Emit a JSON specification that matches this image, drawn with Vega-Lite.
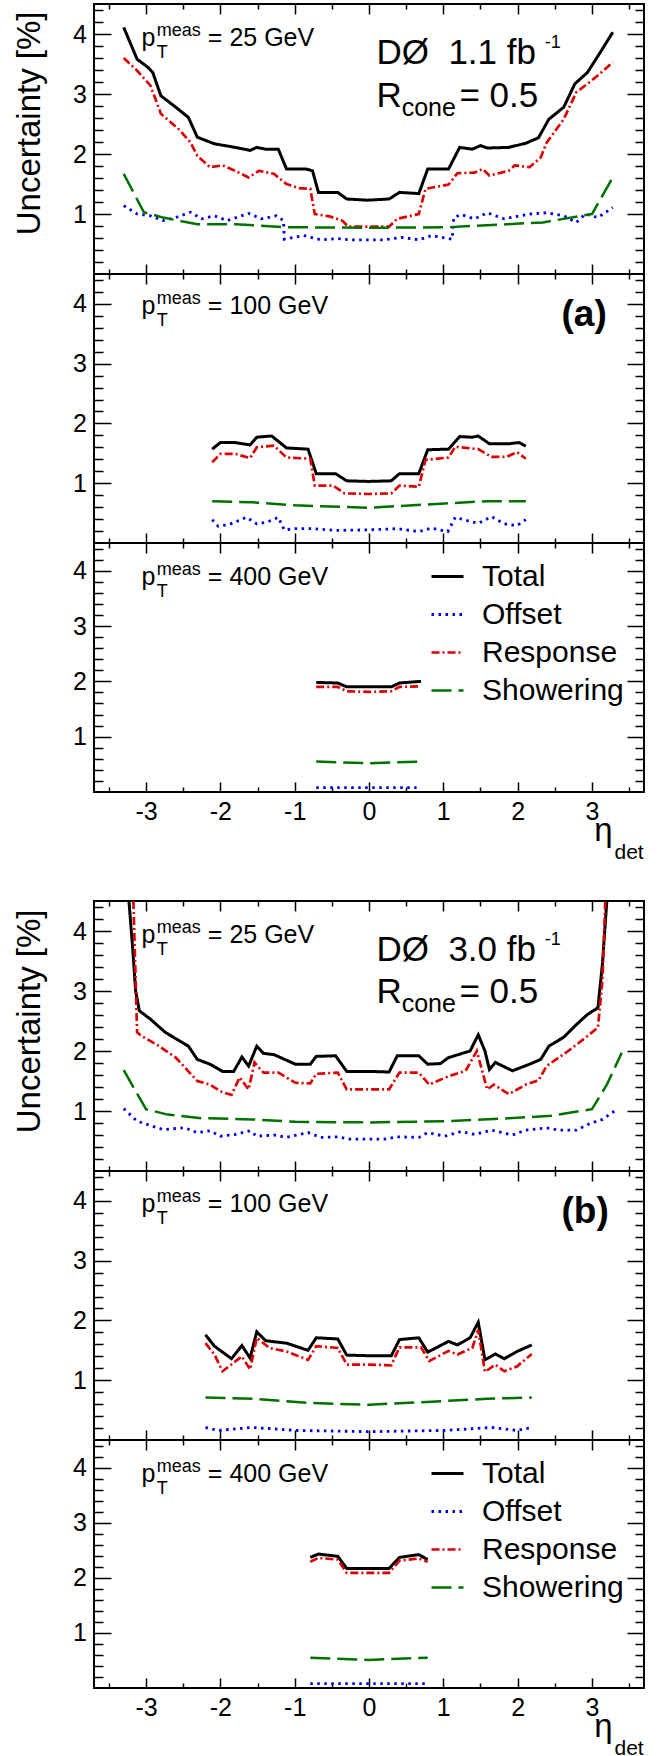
{
"$schema": "https://vega.github.io/schema/vega-lite/v6.json",
"padding": {"left": 12, "top": 2, "right": 5, "bottom": 0},
"background": "white",
"datasets": {
"a25": [
{"c":"Total","x":-3.30,"y":4.11},{"c":"Total","x":-3.12,"y":3.58},{"c":"Total","x":-2.97,"y":3.44},{"c":"Total","x":-2.91,"y":3.36},{"c":"Total","x":-2.80,"y":2.97},{"c":"Total","x":-2.60,"y":2.78},{"c":"Total","x":-2.43,"y":2.61},{"c":"Total","x":-2.31,"y":2.28},{"c":"Total","x":-2.08,"y":2.17},{"c":"Total","x":-1.80,"y":2.11},{"c":"Total","x":-1.60,"y":2.06},{"c":"Total","x":-1.51,"y":2.11},{"c":"Total","x":-1.39,"y":2.08},{"c":"Total","x":-1.22,"y":2.08},{"c":"Total","x":-1.11,"y":1.75},{"c":"Total","x":-0.85,"y":1.75},{"c":"Total","x":-0.76,"y":1.72},{"c":"Total","x":-0.68,"y":1.36},{"c":"Total","x":-0.42,"y":1.36},{"c":"Total","x":-0.30,"y":1.25},{"c":"Total","x":-0.02,"y":1.23},{"c":"Total","x":0.27,"y":1.25},{"c":"Total","x":0.41,"y":1.36},{"c":"Total","x":0.67,"y":1.34},{"c":"Total","x":0.79,"y":1.75},{"c":"Total","x":1.07,"y":1.75},{"c":"Total","x":1.22,"y":2.11},{"c":"Total","x":1.39,"y":2.08},{"c":"Total","x":1.50,"y":2.14},{"c":"Total","x":1.59,"y":2.10},{"c":"Total","x":1.88,"y":2.11},{"c":"Total","x":2.11,"y":2.18},{"c":"Total","x":2.28,"y":2.27},{"c":"Total","x":2.42,"y":2.58},{"c":"Total","x":2.62,"y":2.78},{"c":"Total","x":2.77,"y":3.17},{"c":"Total","x":2.94,"y":3.36},{"c":"Total","x":3.14,"y":3.75},{"c":"Total","x":3.28,"y":4.03},
{"c":"Response","x":-3.30,"y":3.60},{"c":"Response","x":-3.12,"y":3.39},{"c":"Response","x":-2.94,"y":3.14},{"c":"Response","x":-2.80,"y":2.67},{"c":"Response","x":-2.54,"y":2.39},{"c":"Response","x":-2.40,"y":2.19},{"c":"Response","x":-2.31,"y":1.97},{"c":"Response","x":-2.14,"y":1.78},{"c":"Response","x":-1.97,"y":1.81},{"c":"Response","x":-1.80,"y":1.72},{"c":"Response","x":-1.62,"y":1.61},{"c":"Response","x":-1.48,"y":1.72},{"c":"Response","x":-1.28,"y":1.67},{"c":"Response","x":-1.11,"y":1.50},{"c":"Response","x":-0.94,"y":1.43},{"c":"Response","x":-0.79,"y":1.42},{"c":"Response","x":-0.73,"y":1.00},{"c":"Response","x":-0.53,"y":0.96},{"c":"Response","x":-0.36,"y":0.89},{"c":"Response","x":-0.28,"y":0.79},{"c":"Response","x":0.00,"y":0.79},{"c":"Response","x":0.27,"y":0.79},{"c":"Response","x":0.38,"y":0.92},{"c":"Response","x":0.67,"y":1.00},{"c":"Response","x":0.76,"y":1.42},{"c":"Response","x":1.07,"y":1.49},{"c":"Response","x":1.19,"y":1.68},{"c":"Response","x":1.42,"y":1.69},{"c":"Response","x":1.53,"y":1.75},{"c":"Response","x":1.62,"y":1.64},{"c":"Response","x":1.88,"y":1.72},{"c":"Response","x":1.96,"y":1.81},{"c":"Response","x":2.16,"y":1.78},{"c":"Response","x":2.31,"y":1.94},{"c":"Response","x":2.39,"y":2.19},{"c":"Response","x":2.62,"y":2.58},{"c":"Response","x":2.79,"y":3.03},{"c":"Response","x":2.94,"y":3.17},{"c":"Response","x":3.08,"y":3.31},{"c":"Response","x":3.28,"y":3.53},
{"c":"Offset","x":-3.30,"y":1.14},{"c":"Offset","x":-3.12,"y":1.00},{"c":"Offset","x":-2.94,"y":0.97},{"c":"Offset","x":-2.77,"y":0.89},{"c":"Offset","x":-2.60,"y":0.94},{"c":"Offset","x":-2.40,"y":1.03},{"c":"Offset","x":-2.25,"y":0.92},{"c":"Offset","x":-2.08,"y":0.97},{"c":"Offset","x":-1.91,"y":0.89},{"c":"Offset","x":-1.62,"y":1.01},{"c":"Offset","x":-1.45,"y":0.92},{"c":"Offset","x":-1.25,"y":0.97},{"c":"Offset","x":-1.15,"y":0.89},{"c":"Offset","x":-1.14,"y":0.58},{"c":"Offset","x":-0.88,"y":0.64},{"c":"Offset","x":-0.65,"y":0.57},{"c":"Offset","x":-0.42,"y":0.59},{"c":"Offset","x":-0.25,"y":0.57},{"c":"Offset","x":-0.02,"y":0.57},{"c":"Offset","x":0.21,"y":0.57},{"c":"Offset","x":0.44,"y":0.61},{"c":"Offset","x":0.67,"y":0.57},{"c":"Offset","x":0.84,"y":0.64},{"c":"Offset","x":1.12,"y":0.58},{"c":"Offset","x":1.14,"y":0.94},{"c":"Offset","x":1.24,"y":0.99},{"c":"Offset","x":1.42,"y":0.92},{"c":"Offset","x":1.59,"y":1.02},{"c":"Offset","x":1.82,"y":0.92},{"c":"Offset","x":2.16,"y":1.00},{"c":"Offset","x":2.39,"y":1.02},{"c":"Offset","x":2.62,"y":0.97},{"c":"Offset","x":2.79,"y":0.86},{"c":"Offset","x":2.91,"y":1.00},{"c":"Offset","x":3.08,"y":0.94},{"c":"Offset","x":3.28,"y":1.11},
{"c":"Showering","x":-3.30,"y":1.67},{"c":"Showering","x":-3.03,"y":1.03},{"c":"Showering","x":-2.77,"y":0.94},{"c":"Showering","x":-2.31,"y":0.83},{"c":"Showering","x":-1.80,"y":0.83},{"c":"Showering","x":-1.11,"y":0.78},{"c":"Showering","x":0.0,"y":0.77},{"c":"Showering","x":1.07,"y":0.78},{"c":"Showering","x":2.34,"y":0.86},{"c":"Showering","x":3.00,"y":1.00},{"c":"Showering","x":3.28,"y":1.61}
],
"a100": [
{"c":"Total","x":-2.11,"y":1.57},{"c":"Total","x":-2.00,"y":1.68},{"c":"Total","x":-1.80,"y":1.68},{"c":"Total","x":-1.60,"y":1.64},{"c":"Total","x":-1.51,"y":1.77},{"c":"Total","x":-1.31,"y":1.79},{"c":"Total","x":-1.11,"y":1.59},{"c":"Total","x":-0.82,"y":1.57},{"c":"Total","x":-0.71,"y":1.16},{"c":"Total","x":-0.45,"y":1.16},{"c":"Total","x":-0.30,"y":1.04},{"c":"Total","x":0.00,"y":1.03},{"c":"Total","x":0.30,"y":1.04},{"c":"Total","x":0.41,"y":1.16},{"c":"Total","x":0.67,"y":1.16},{"c":"Total","x":0.79,"y":1.56},{"c":"Total","x":1.07,"y":1.57},{"c":"Total","x":1.22,"y":1.78},{"c":"Total","x":1.39,"y":1.77},{"c":"Total","x":1.47,"y":1.79},{"c":"Total","x":1.62,"y":1.66},{"c":"Total","x":1.88,"y":1.66},{"c":"Total","x":2.02,"y":1.68},{"c":"Total","x":2.11,"y":1.62},
{"c":"Response","x":-2.11,"y":1.35},{"c":"Response","x":-2.00,"y":1.49},{"c":"Response","x":-1.80,"y":1.49},{"c":"Response","x":-1.60,"y":1.42},{"c":"Response","x":-1.51,"y":1.60},{"c":"Response","x":-1.28,"y":1.63},{"c":"Response","x":-1.11,"y":1.43},{"c":"Response","x":-0.79,"y":1.41},{"c":"Response","x":-0.73,"y":0.96},{"c":"Response","x":-0.48,"y":0.96},{"c":"Response","x":-0.33,"y":0.83},{"c":"Response","x":0.00,"y":0.82},{"c":"Response","x":0.30,"y":0.83},{"c":"Response","x":0.41,"y":0.96},{"c":"Response","x":0.67,"y":0.94},{"c":"Response","x":0.76,"y":1.39},{"c":"Response","x":1.07,"y":1.43},{"c":"Response","x":1.16,"y":1.61},{"c":"Response","x":1.47,"y":1.57},{"c":"Response","x":1.65,"y":1.44},{"c":"Response","x":1.85,"y":1.44},{"c":"Response","x":1.99,"y":1.52},{"c":"Response","x":2.11,"y":1.41},
{"c":"Offset","x":-2.11,"y":0.39},{"c":"Offset","x":-2.03,"y":0.28},{"c":"Offset","x":-1.88,"y":0.31},{"c":"Offset","x":-1.65,"y":0.43},{"c":"Offset","x":-1.51,"y":0.32},{"c":"Offset","x":-1.37,"y":0.35},{"c":"Offset","x":-1.22,"y":0.43},{"c":"Offset","x":-1.14,"y":0.22},{"c":"Offset","x":-0.99,"y":0.24},{"c":"Offset","x":-0.76,"y":0.24},{"c":"Offset","x":-0.42,"y":0.21},{"c":"Offset","x":0.00,"y":0.22},{"c":"Offset","x":0.38,"y":0.24},{"c":"Offset","x":0.67,"y":0.19},{"c":"Offset","x":0.84,"y":0.25},{"c":"Offset","x":1.06,"y":0.19},{"c":"Offset","x":1.16,"y":0.43},{"c":"Offset","x":1.30,"y":0.38},{"c":"Offset","x":1.47,"y":0.33},{"c":"Offset","x":1.65,"y":0.44},{"c":"Offset","x":1.82,"y":0.32},{"c":"Offset","x":1.99,"y":0.29},{"c":"Offset","x":2.11,"y":0.39},
{"c":"Showering","x":-2.11,"y":0.70},{"c":"Showering","x":-1.57,"y":0.68},{"c":"Showering","x":-0.99,"y":0.63},{"c":"Showering","x":0.0,"y":0.59},{"c":"Showering","x":1.02,"y":0.66},{"c":"Showering","x":1.59,"y":0.70},{"c":"Showering","x":2.11,"y":0.70}
],
"a400": [
{"c":"Total","x":-0.71,"y":1.98},{"c":"Total","x":-0.42,"y":1.97},{"c":"Total","x":-0.30,"y":1.90},{"c":"Total","x":0.0,"y":1.90},{"c":"Total","x":0.30,"y":1.90},{"c":"Total","x":0.41,"y":1.97},{"c":"Total","x":0.70,"y":2.00},
{"c":"Response","x":-0.71,"y":1.90},{"c":"Response","x":-0.42,"y":1.90},{"c":"Response","x":-0.30,"y":1.82},{"c":"Response","x":0.0,"y":1.81},{"c":"Response","x":0.30,"y":1.82},{"c":"Response","x":0.41,"y":1.90},{"c":"Response","x":0.70,"y":1.91},
{"c":"Offset","x":-0.71,"y":0.08},{"c":"Offset","x":0.0,"y":0.08},{"c":"Offset","x":0.64,"y":0.08},
{"c":"Showering","x":-0.71,"y":0.55},{"c":"Showering","x":0.0,"y":0.52},{"c":"Showering","x":0.70,"y":0.55}
],
"b25": [
{"c":"Total","x":-3.23,"y":4.5},{"c":"Total","x":-3.18,"y":3.72},{"c":"Total","x":-3.14,"y":3.0},{"c":"Total","x":-3.09,"y":2.67},{"c":"Total","x":-2.94,"y":2.53},{"c":"Total","x":-2.74,"y":2.31},{"c":"Total","x":-2.43,"y":2.08},{"c":"Total","x":-2.31,"y":1.86},{"c":"Total","x":-2.14,"y":1.78},{"c":"Total","x":-1.97,"y":1.66},{"c":"Total","x":-1.82,"y":1.66},{"c":"Total","x":-1.71,"y":1.90},{"c":"Total","x":-1.62,"y":1.75},{"c":"Total","x":-1.51,"y":2.08},{"c":"Total","x":-1.42,"y":1.96},{"c":"Total","x":-1.28,"y":1.94},{"c":"Total","x":-0.99,"y":1.78},{"c":"Total","x":-0.79,"y":1.78},{"c":"Total","x":-0.71,"y":1.91},{"c":"Total","x":-0.45,"y":1.92},{"c":"Total","x":-0.30,"y":1.66},{"c":"Total","x":0.0,"y":1.66},{"c":"Total","x":0.27,"y":1.65},{"c":"Total","x":0.38,"y":1.92},{"c":"Total","x":0.67,"y":1.92},{"c":"Total","x":0.79,"y":1.78},{"c":"Total","x":0.96,"y":1.79},{"c":"Total","x":1.07,"y":1.89},{"c":"Total","x":1.36,"y":2.00},{"c":"Total","x":1.47,"y":2.27},{"c":"Total","x":1.56,"y":2.00},{"c":"Total","x":1.62,"y":1.69},{"c":"Total","x":1.70,"y":1.81},{"c":"Total","x":1.93,"y":1.67},{"c":"Total","x":2.16,"y":1.78},{"c":"Total","x":2.31,"y":1.86},{"c":"Total","x":2.42,"y":2.08},{"c":"Total","x":2.62,"y":2.23},{"c":"Total","x":2.79,"y":2.44},{"c":"Total","x":2.94,"y":2.61},{"c":"Total","x":3.08,"y":2.72},{"c":"Total","x":3.14,"y":3.44},{"c":"Total","x":3.20,"y":4.5},
{"c":"Response","x":-3.17,"y":4.5},{"c":"Response","x":-3.12,"y":2.31},{"c":"Response","x":-3.06,"y":2.25},{"c":"Response","x":-2.86,"y":2.11},{"c":"Response","x":-2.60,"y":1.89},{"c":"Response","x":-2.31,"y":1.50},{"c":"Response","x":-2.14,"y":1.44},{"c":"Response","x":-1.97,"y":1.31},{"c":"Response","x":-1.85,"y":1.27},{"c":"Response","x":-1.74,"y":1.56},{"c":"Response","x":-1.62,"y":1.36},{"c":"Response","x":-1.54,"y":1.81},{"c":"Response","x":-1.42,"y":1.64},{"c":"Response","x":-1.22,"y":1.64},{"c":"Response","x":-0.99,"y":1.47},{"c":"Response","x":-0.79,"y":1.46},{"c":"Response","x":-0.71,"y":1.62},{"c":"Response","x":-0.42,"y":1.64},{"c":"Response","x":-0.30,"y":1.36},{"c":"Response","x":0.0,"y":1.36},{"c":"Response","x":0.27,"y":1.36},{"c":"Response","x":0.41,"y":1.64},{"c":"Response","x":0.67,"y":1.64},{"c":"Response","x":0.81,"y":1.44},{"c":"Response","x":1.07,"y":1.58},{"c":"Response","x":1.30,"y":1.67},{"c":"Response","x":1.45,"y":2.00},{"c":"Response","x":1.59,"y":1.36},{"c":"Response","x":1.68,"y":1.44},{"c":"Response","x":1.88,"y":1.28},{"c":"Response","x":2.11,"y":1.44},{"c":"Response","x":2.28,"y":1.51},{"c":"Response","x":2.39,"y":1.75},{"c":"Response","x":2.68,"y":2.00},{"c":"Response","x":2.91,"y":2.22},{"c":"Response","x":3.08,"y":2.39},{"c":"Response","x":3.14,"y":3.17},{"c":"Response","x":3.18,"y":4.5},
{"c":"Offset","x":-3.30,"y":1.04},{"c":"Offset","x":-3.12,"y":0.83},{"c":"Offset","x":-2.77,"y":0.69},{"c":"Offset","x":-2.48,"y":0.72},{"c":"Offset","x":-2.31,"y":0.64},{"c":"Offset","x":-2.14,"y":0.67},{"c":"Offset","x":-2.00,"y":0.58},{"c":"Offset","x":-1.80,"y":0.61},{"c":"Offset","x":-1.60,"y":0.67},{"c":"Offset","x":-1.51,"y":0.58},{"c":"Offset","x":-1.28,"y":0.60},{"c":"Offset","x":-1.11,"y":0.56},{"c":"Offset","x":-0.82,"y":0.64},{"c":"Offset","x":-0.65,"y":0.56},{"c":"Offset","x":-0.42,"y":0.57},{"c":"Offset","x":-0.25,"y":0.53},{"c":"Offset","x":0.0,"y":0.53},{"c":"Offset","x":0.21,"y":0.53},{"c":"Offset","x":0.38,"y":0.57},{"c":"Offset","x":0.67,"y":0.56},{"c":"Offset","x":0.79,"y":0.64},{"c":"Offset","x":1.02,"y":0.58},{"c":"Offset","x":1.24,"y":0.66},{"c":"Offset","x":1.42,"y":0.61},{"c":"Offset","x":1.65,"y":0.68},{"c":"Offset","x":1.93,"y":0.60},{"c":"Offset","x":2.11,"y":0.68},{"c":"Offset","x":2.39,"y":0.72},{"c":"Offset","x":2.56,"y":0.68},{"c":"Offset","x":2.79,"y":0.68},{"c":"Offset","x":2.97,"y":0.79},{"c":"Offset","x":3.14,"y":0.86},{"c":"Offset","x":3.34,"y":1.03},
{"c":"Showering","x":-3.30,"y":1.68},{"c":"Showering","x":-3.00,"y":1.03},{"c":"Showering","x":-2.71,"y":0.94},{"c":"Showering","x":-2.25,"y":0.88},{"c":"Showering","x":-1.57,"y":0.86},{"c":"Showering","x":-0.99,"y":0.82},{"c":"Showering","x":0.0,"y":0.81},{"c":"Showering","x":1.07,"y":0.83},{"c":"Showering","x":1.88,"y":0.88},{"c":"Showering","x":2.45,"y":0.92},{"c":"Showering","x":3.00,"y":1.03},{"c":"Showering","x":3.20,"y":1.44},{"c":"Showering","x":3.40,"y":1.97}
],
"b100": [
{"c":"Total","x":-2.20,"y":1.76},{"c":"Total","x":-2.08,"y":1.57},{"c":"Total","x":-1.85,"y":1.36},{"c":"Total","x":-1.71,"y":1.58},{"c":"Total","x":-1.60,"y":1.37},{"c":"Total","x":-1.51,"y":1.81},{"c":"Total","x":-1.39,"y":1.66},{"c":"Total","x":-1.11,"y":1.62},{"c":"Total","x":-0.82,"y":1.50},{"c":"Total","x":-0.71,"y":1.71},{"c":"Total","x":-0.42,"y":1.69},{"c":"Total","x":-0.30,"y":1.42},{"c":"Total","x":0.0,"y":1.41},{"c":"Total","x":0.30,"y":1.41},{"c":"Total","x":0.41,"y":1.68},{"c":"Total","x":0.67,"y":1.71},{"c":"Total","x":0.79,"y":1.47},{"c":"Total","x":1.07,"y":1.65},{"c":"Total","x":1.19,"y":1.59},{"c":"Total","x":1.36,"y":1.71},{"c":"Total","x":1.47,"y":1.97},{"c":"Total","x":1.56,"y":1.34},{"c":"Total","x":1.70,"y":1.44},{"c":"Total","x":1.82,"y":1.36},{"c":"Total","x":1.99,"y":1.48},{"c":"Total","x":2.19,"y":1.59},
{"c":"Response","x":-2.20,"y":1.62},{"c":"Response","x":-2.08,"y":1.43},{"c":"Response","x":-1.97,"y":1.15},{"c":"Response","x":-1.71,"y":1.40},{"c":"Response","x":-1.60,"y":1.18},{"c":"Response","x":-1.51,"y":1.71},{"c":"Response","x":-1.34,"y":1.54},{"c":"Response","x":-1.11,"y":1.48},{"c":"Response","x":-0.82,"y":1.34},{"c":"Response","x":-0.71,"y":1.57},{"c":"Response","x":-0.42,"y":1.54},{"c":"Response","x":-0.30,"y":1.26},{"c":"Response","x":0.0,"y":1.26},{"c":"Response","x":0.30,"y":1.25},{"c":"Response","x":0.41,"y":1.55},{"c":"Response","x":0.70,"y":1.55},{"c":"Response","x":0.81,"y":1.32},{"c":"Response","x":1.07,"y":1.49},{"c":"Response","x":1.19,"y":1.43},{"c":"Response","x":1.39,"y":1.54},{"c":"Response","x":1.47,"y":1.84},{"c":"Response","x":1.56,"y":1.14},{"c":"Response","x":1.70,"y":1.26},{"c":"Response","x":1.82,"y":1.15},{"c":"Response","x":1.99,"y":1.23},{"c":"Response","x":2.19,"y":1.44},
{"c":"Offset","x":-2.20,"y":0.21},{"c":"Offset","x":-2.03,"y":0.16},{"c":"Offset","x":-1.57,"y":0.21},{"c":"Offset","x":-0.99,"y":0.16},{"c":"Offset","x":0.0,"y":0.14},{"c":"Offset","x":1.02,"y":0.16},{"c":"Offset","x":1.65,"y":0.21},{"c":"Offset","x":1.99,"y":0.16},{"c":"Offset","x":2.19,"y":0.21},
{"c":"Showering","x":-2.20,"y":0.71},{"c":"Showering","x":-1.57,"y":0.69},{"c":"Showering","x":-0.82,"y":0.62},{"c":"Showering","x":0.0,"y":0.59},{"c":"Showering","x":0.84,"y":0.64},{"c":"Showering","x":1.59,"y":0.69},{"c":"Showering","x":2.19,"y":0.71}
],
"b400": [
{"c":"Total","x":-0.79,"y":2.37},{"c":"Total","x":-0.68,"y":2.43},{"c":"Total","x":-0.42,"y":2.39},{"c":"Total","x":-0.30,"y":2.17},{"c":"Total","x":0.0,"y":2.17},{"c":"Total","x":0.27,"y":2.17},{"c":"Total","x":0.41,"y":2.37},{"c":"Total","x":0.67,"y":2.42},{"c":"Total","x":0.79,"y":2.33},
{"c":"Response","x":-0.79,"y":2.29},{"c":"Response","x":-0.68,"y":2.36},{"c":"Response","x":-0.42,"y":2.33},{"c":"Response","x":-0.30,"y":2.09},{"c":"Response","x":0.0,"y":2.09},{"c":"Response","x":0.27,"y":2.09},{"c":"Response","x":0.41,"y":2.31},{"c":"Response","x":0.67,"y":2.35},{"c":"Response","x":0.79,"y":2.29},
{"c":"Offset","x":-0.79,"y":0.08},{"c":"Offset","x":0.0,"y":0.08},{"c":"Offset","x":0.79,"y":0.08},
{"c":"Showering","x":-0.79,"y":0.55},{"c":"Showering","x":0.0,"y":0.51},{"c":"Showering","x":0.79,"y":0.55}
]
},
"spacing": 0,
"bounds": "flush",
"resolve": {"scale": {"color": "independent", "strokeDash": "independent", "strokeWidth": "independent"}},
"vconcat": [
 {"width": 550, "height": 270, "resolve": {"axis": {"x": "independent", "y": "independent"}},
  "layer": [
   {"data": {"name": "a25"}, "mark": {"type": "line", "clip": true},
    "encoding": {
     "x": {"field": "x", "type": "quantitative", "scale": {"domain": [-3.7, 3.7], "nice": false, "zero": false}, "axis": {"orient": "bottom", "values": [-3,-2,-1,0,1,2,3], "tickSize": -10, "labels": false, "title": null}},
     "y": {"field": "y", "type": "quantitative", "scale": {"domain": [0, 4.5], "nice": false, "zero": false}, "axis": {"orient": "left", "values": [1,2,3,4], "tickSize": -17, "labelPadding": 24.7, "labelExpr": "''+datum.value", "title": "Uncertainty [%]", "titleFontSize": 33, "titleAngle": -90, "titleAlign": "right", "titleBaseline": "alphabetic", "titleX": -54.6, "titleY": 7}},
     "color": {"field": "c", "type": "nominal", "scale": {"domain": ["Total","Offset","Response","Showering"], "range": ["#000000","#0000dd","#dd0000","#007000"]}, "legend": null},
     "strokeDash": {"field": "c", "type": "nominal", "scale": {"domain": ["Total","Offset","Response","Showering"], "range": [[1,0],[2.5,4.5],[8,3,2,3],[20,7]]}, "legend": null},
     "strokeWidth": {"field": "c", "type": "nominal", "scale": {"domain": ["Total","Offset","Response","Showering"], "range": [3,2.5,2,2.3]}, "legend": null}
    }},
   {"data": {"name": "a25"}, "mark": {"type": "point", "opacity": 0}, "encoding": {"x": {"field": "x", "type": "quantitative", "axis": {"orient": "bottom", "values": [-3.5,-2.5,-1.5,-0.5,0.5,1.5,2.5,3.5], "tickSize": -5, "labels": false, "title": null}}, "y": {"field": "y", "type": "quantitative", "axis": {"orient": "left", "values": [0.2,0.4,0.6,0.8,1.2,1.4,1.6,1.8,2.2,2.4,2.6,2.8,3.2,3.4,3.6,3.8,4.2,4.4], "tickSize": -9, "labels": false, "title": null}}}},
   {"data": {"name": "a25"}, "mark": {"type": "point", "opacity": 0}, "encoding": {"x": {"field": "x", "type": "quantitative", "axis": {"orient": "top", "values": [-3,-2,-1,0,1,2,3], "tickSize": -10, "labels": false, "title": null}}, "y": {"field": "y", "type": "quantitative", "axis": {"orient": "right", "values": [1,2,3,4], "tickSize": -17, "labels": false, "title": null}}}},
   {"data": {"name": "a25"}, "mark": {"type": "point", "opacity": 0}, "encoding": {"x": {"field": "x", "type": "quantitative", "axis": {"orient": "top", "values": [-3.5,-2.5,-1.5,-0.5,0.5,1.5,2.5,3.5], "tickSize": -5, "labels": false, "title": null}}, "y": {"field": "y", "type": "quantitative", "axis": {"orient": "right", "values": [0.2,0.4,0.6,0.8,1.2,1.4,1.6,1.8,2.2,2.4,2.6,2.8,3.2,3.4,3.6,3.8,4.2,4.4], "tickSize": -9, "labels": false, "title": null}}}},
   {"data": {"values": [{}]}, "mark": {"type": "text", "text": "p", "fontSize": 25}, "encoding": {"x": {"datum": -3.06, "type": "quantitative", "axis": null}, "y": {"datum": 3.8, "type": "quantitative", "axis": null}}},
   {"data": {"values": [{}]}, "mark": {"type": "text", "text": "meas", "fontSize": 18, "dy": -10}, "encoding": {"x": {"datum": -2.857, "type": "quantitative", "axis": null}, "y": {"datum": 3.8, "type": "quantitative", "axis": null}}},
   {"data": {"values": [{}]}, "mark": {"type": "text", "text": "T", "fontSize": 18, "dy": 12}, "encoding": {"x": {"datum": -2.857, "type": "quantitative", "axis": null}, "y": {"datum": 3.8, "type": "quantitative", "axis": null}}},
   {"data": {"values": [{}]}, "mark": {"type": "text", "text": "= 25 GeV", "fontSize": 25}, "encoding": {"x": {"datum": -2.168, "type": "quantitative", "axis": null}, "y": {"datum": 3.8, "type": "quantitative", "axis": null}}},
   {"data": {"values": [{}]}, "mark": {"type": "text", "text": "DØ\u00a0 1.1 fb", "fontSize": 35}, "encoding": {"x": {"datum": 0.1, "type": "quantitative", "axis": null}, "y": {"datum": 3.5, "type": "quantitative", "axis": null}}},
   {"data": {"values": [{}]}, "mark": {"type": "text", "text": "-1", "fontSize": 18, "dy": -16}, "encoding": {"x": {"datum": 2.364, "type": "quantitative", "axis": null}, "y": {"datum": 3.5, "type": "quantitative", "axis": null}}},
   {"data": {"values": [{}]}, "mark": {"type": "text", "text": "R", "fontSize": 35}, "encoding": {"x": {"datum": 0.1, "type": "quantitative", "axis": null}, "y": {"datum": 2.79, "type": "quantitative", "axis": null}}},
   {"data": {"values": [{}]}, "mark": {"type": "text", "text": "cone", "fontSize": 25, "dy": 9}, "encoding": {"x": {"datum": 0.44, "type": "quantitative", "axis": null}, "y": {"datum": 2.79, "type": "quantitative", "axis": null}}},
   {"data": {"values": [{}]}, "mark": {"type": "text", "text": "= 0.5", "fontSize": 35}, "encoding": {"x": {"datum": 1.216, "type": "quantitative", "axis": null}, "y": {"datum": 2.79, "type": "quantitative", "axis": null}}}
  ]},
 {"width": 550, "height": 269, "resolve": {"axis": {"x": "independent", "y": "independent"}},
  "layer": [
   {"data": {"name": "a100"}, "mark": {"type": "line", "clip": true},
    "encoding": {
     "x": {"field": "x", "type": "quantitative", "scale": {"domain": [-3.7, 3.7], "nice": false, "zero": false}, "axis": {"orient": "bottom", "values": [-3,-2,-1,0,1,2,3], "tickSize": -10, "labels": false, "title": null}},
     "y": {"field": "y", "type": "quantitative", "scale": {"domain": [0, 4.5], "nice": false, "zero": false}, "axis": {"orient": "left", "values": [1,2,3,4], "tickSize": -17, "labelPadding": 24.7, "labelExpr": "''+datum.value", "title": null}},
     "color": {"field": "c", "type": "nominal", "scale": {"domain": ["Total","Offset","Response","Showering"], "range": ["#000000","#0000dd","#dd0000","#007000"]}, "legend": null},
     "strokeDash": {"field": "c", "type": "nominal", "scale": {"domain": ["Total","Offset","Response","Showering"], "range": [[1,0],[2.5,4.5],[8,3,2,3],[20,7]]}, "legend": null},
     "strokeWidth": {"field": "c", "type": "nominal", "scale": {"domain": ["Total","Offset","Response","Showering"], "range": [3,2.5,2,2.3]}, "legend": null}
    }},
   {"data": {"name": "a100"}, "mark": {"type": "point", "opacity": 0}, "encoding": {"x": {"field": "x", "type": "quantitative", "axis": {"orient": "bottom", "values": [-3.5,-2.5,-1.5,-0.5,0.5,1.5,2.5,3.5], "tickSize": -5, "labels": false, "title": null}}, "y": {"field": "y", "type": "quantitative", "axis": {"orient": "left", "values": [0.2,0.4,0.6,0.8,1.2,1.4,1.6,1.8,2.2,2.4,2.6,2.8,3.2,3.4,3.6,3.8,4.2,4.4], "tickSize": -9, "labels": false, "title": null}}}},
   {"data": {"name": "a100"}, "mark": {"type": "point", "opacity": 0}, "encoding": {"x": {"field": "x", "type": "quantitative", "axis": {"orient": "top", "values": [-3,-2,-1,0,1,2,3], "tickSize": -10, "labels": false, "title": null}}, "y": {"field": "y", "type": "quantitative", "axis": {"orient": "right", "values": [1,2,3,4], "tickSize": -17, "labels": false, "title": null}}}},
   {"data": {"name": "a100"}, "mark": {"type": "point", "opacity": 0}, "encoding": {"x": {"field": "x", "type": "quantitative", "axis": {"orient": "top", "values": [-3.5,-2.5,-1.5,-0.5,0.5,1.5,2.5,3.5], "tickSize": -5, "labels": false, "title": null}}, "y": {"field": "y", "type": "quantitative", "axis": {"orient": "right", "values": [0.2,0.4,0.6,0.8,1.2,1.4,1.6,1.8,2.2,2.4,2.6,2.8,3.2,3.4,3.6,3.8,4.2,4.4], "tickSize": -9, "labels": false, "title": null}}}},
   {"data": {"values": [{}]}, "mark": {"type": "text", "text": "p", "fontSize": 25}, "encoding": {"x": {"datum": -3.06, "type": "quantitative", "axis": null}, "y": {"datum": 3.83, "type": "quantitative", "axis": null}}},
   {"data": {"values": [{}]}, "mark": {"type": "text", "text": "meas", "fontSize": 18, "dy": -10}, "encoding": {"x": {"datum": -2.857, "type": "quantitative", "axis": null}, "y": {"datum": 3.83, "type": "quantitative", "axis": null}}},
   {"data": {"values": [{}]}, "mark": {"type": "text", "text": "T", "fontSize": 18, "dy": 12}, "encoding": {"x": {"datum": -2.857, "type": "quantitative", "axis": null}, "y": {"datum": 3.83, "type": "quantitative", "axis": null}}},
   {"data": {"values": [{}]}, "mark": {"type": "text", "text": "= 100 GeV", "fontSize": 25}, "encoding": {"x": {"datum": -2.168, "type": "quantitative", "axis": null}, "y": {"datum": 3.83, "type": "quantitative", "axis": null}}},
   {"data": {"values": [{}]}, "mark": {"type": "text", "text": "(a)", "fontSize": 37, "fontWeight": "bold"}, "encoding": {"x": {"datum": 2.59, "type": "quantitative", "axis": null}, "y": {"datum": 3.63, "type": "quantitative", "axis": null}}}
  ]},
 {"width": 550, "height": 249, "resolve": {"axis": {"x": "independent", "y": "independent"}},
  "layer": [
   {"data": {"name": "a400"}, "mark": {"type": "line", "clip": true},
    "encoding": {
     "x": {"field": "x", "type": "quantitative", "scale": {"domain": [-3.7, 3.7], "nice": false, "zero": false}, "axis": {"orient": "bottom", "values": [-3,-2,-1,0,1,2,3], "tickSize": -10, "labelPadding": 17, "labelExpr": "''+datum.value", "title": "η", "titleFontSize": 33, "titleAlign": "right", "titleBaseline": "alphabetic", "titleAngle": 0, "titleX": 518, "titleY": 48}},
     "y": {"field": "y", "type": "quantitative", "scale": {"domain": [0, 4.5], "nice": false, "zero": false}, "axis": {"orient": "left", "values": [1,2,3,4], "tickSize": -17, "labelPadding": 24.7, "labelExpr": "''+datum.value", "title": null}},
     "color": {"field": "c", "type": "nominal", "scale": {"domain": ["Total","Offset","Response","Showering"], "range": ["#000000","#0000dd","#dd0000","#007000"]}, "legend": {"orient": "none", "legendX": 336, "legendY": 16, "title": null, "symbolType": "stroke", "symbolSize": 1024, "symbolStrokeWidth": 2.5, "labelFontSize": 30, "labelOffset": 17, "rowPadding": 5, "padding": 0, "labelColor": "black", "labelFont": "Liberation Sans"}},
     "strokeDash": {"field": "c", "type": "nominal", "scale": {"domain": ["Total","Offset","Response","Showering"], "range": [[1,0],[2.5,4.5],[8,3,2,3],[20,7]]}, "legend": {"orient": "none", "legendX": 336, "legendY": 16, "title": null, "symbolType": "stroke", "symbolSize": 1024, "symbolStrokeWidth": 2.5, "labelFontSize": 30, "labelOffset": 17, "rowPadding": 5, "padding": 0, "labelColor": "black", "labelFont": "Liberation Sans"}},
     "strokeWidth": {"field": "c", "type": "nominal", "scale": {"domain": ["Total","Offset","Response","Showering"], "range": [3,2.5,2,2.3]}, "legend": null}
    }},
   {"data": {"name": "a400"}, "mark": {"type": "point", "opacity": 0}, "encoding": {"x": {"field": "x", "type": "quantitative", "axis": {"orient": "bottom", "values": [-3.5,-2.5,-1.5,-0.5,0.5,1.5,2.5,3.5], "tickSize": -5, "labels": false, "title": "det", "titleFontSize": 21, "titleAlign": "left", "titleBaseline": "alphabetic", "titleAngle": 0, "titleX": 520, "titleY": 66}}, "y": {"field": "y", "type": "quantitative", "axis": {"orient": "left", "values": [0.2,0.4,0.6,0.8,1.2,1.4,1.6,1.8,2.2,2.4,2.6,2.8,3.2,3.4,3.6,3.8,4.2,4.4], "tickSize": -9, "labels": false, "title": null}}}},
   {"data": {"name": "a400"}, "mark": {"type": "point", "opacity": 0}, "encoding": {"x": {"field": "x", "type": "quantitative", "axis": {"orient": "top", "values": [-3,-2,-1,0,1,2,3], "tickSize": -10, "labels": false, "title": null}}, "y": {"field": "y", "type": "quantitative", "axis": {"orient": "right", "values": [1,2,3,4], "tickSize": -17, "labels": false, "title": null}}}},
   {"data": {"name": "a400"}, "mark": {"type": "point", "opacity": 0}, "encoding": {"x": {"field": "x", "type": "quantitative", "axis": {"orient": "top", "values": [-3.5,-2.5,-1.5,-0.5,0.5,1.5,2.5,3.5], "tickSize": -5, "labels": false, "title": null}}, "y": {"field": "y", "type": "quantitative", "axis": {"orient": "right", "values": [0.2,0.4,0.6,0.8,1.2,1.4,1.6,1.8,2.2,2.4,2.6,2.8,3.2,3.4,3.6,3.8,4.2,4.4], "tickSize": -9, "labels": false, "title": null}}}},
   {"data": {"values": [{}]}, "mark": {"type": "text", "text": "p", "fontSize": 25}, "encoding": {"x": {"datum": -3.06, "type": "quantitative", "axis": null}, "y": {"datum": 3.75, "type": "quantitative", "axis": null}}},
   {"data": {"values": [{}]}, "mark": {"type": "text", "text": "meas", "fontSize": 18, "dy": -10}, "encoding": {"x": {"datum": -2.857, "type": "quantitative", "axis": null}, "y": {"datum": 3.75, "type": "quantitative", "axis": null}}},
   {"data": {"values": [{}]}, "mark": {"type": "text", "text": "T", "fontSize": 18, "dy": 12}, "encoding": {"x": {"datum": -2.857, "type": "quantitative", "axis": null}, "y": {"datum": 3.75, "type": "quantitative", "axis": null}}},
   {"data": {"values": [{}]}, "mark": {"type": "text", "text": "= 400 GeV", "fontSize": 25}, "encoding": {"x": {"datum": -2.168, "type": "quantitative", "axis": null}, "y": {"datum": 3.75, "type": "quantitative", "axis": null}}}
  ]},
 {"width": 550, "height": 109, "view": {"stroke": null}, "data": {"values": [{}]}, "mark": {"type": "point", "opacity": 0, "size": 0}, "encoding": {}},
 {"width": 550, "height": 270, "resolve": {"axis": {"x": "independent", "y": "independent"}},
  "layer": [
   {"data": {"name": "b25"}, "mark": {"type": "line", "clip": true},
    "encoding": {
     "x": {"field": "x", "type": "quantitative", "scale": {"domain": [-3.7, 3.7], "nice": false, "zero": false}, "axis": {"orient": "bottom", "values": [-3,-2,-1,0,1,2,3], "tickSize": -10, "labels": false, "title": null}},
     "y": {"field": "y", "type": "quantitative", "scale": {"domain": [0, 4.5], "nice": false, "zero": false}, "axis": {"orient": "left", "values": [1,2,3,4], "tickSize": -17, "labelPadding": 24.7, "labelExpr": "''+datum.value", "title": "Uncertainty [%]", "titleFontSize": 33, "titleAngle": -90, "titleAlign": "right", "titleBaseline": "alphabetic", "titleX": -54.6, "titleY": 8}},
     "color": {"field": "c", "type": "nominal", "scale": {"domain": ["Total","Offset","Response","Showering"], "range": ["#000000","#0000dd","#dd0000","#007000"]}, "legend": null},
     "strokeDash": {"field": "c", "type": "nominal", "scale": {"domain": ["Total","Offset","Response","Showering"], "range": [[1,0],[2.5,4.5],[8,3,2,3],[20,7]]}, "legend": null},
     "strokeWidth": {"field": "c", "type": "nominal", "scale": {"domain": ["Total","Offset","Response","Showering"], "range": [3,2.5,2,2.3]}, "legend": null}
    }},
   {"data": {"name": "b25"}, "mark": {"type": "point", "opacity": 0}, "encoding": {"x": {"field": "x", "type": "quantitative", "axis": {"orient": "bottom", "values": [-3.5,-2.5,-1.5,-0.5,0.5,1.5,2.5,3.5], "tickSize": -5, "labels": false, "title": null}}, "y": {"field": "y", "type": "quantitative", "axis": {"orient": "left", "values": [0.2,0.4,0.6,0.8,1.2,1.4,1.6,1.8,2.2,2.4,2.6,2.8,3.2,3.4,3.6,3.8,4.2,4.4], "tickSize": -9, "labels": false, "title": null}}}},
   {"data": {"name": "b25"}, "mark": {"type": "point", "opacity": 0}, "encoding": {"x": {"field": "x", "type": "quantitative", "axis": {"orient": "top", "values": [-3,-2,-1,0,1,2,3], "tickSize": -10, "labels": false, "title": null}}, "y": {"field": "y", "type": "quantitative", "axis": {"orient": "right", "values": [1,2,3,4], "tickSize": -17, "labels": false, "title": null}}}},
   {"data": {"name": "b25"}, "mark": {"type": "point", "opacity": 0}, "encoding": {"x": {"field": "x", "type": "quantitative", "axis": {"orient": "top", "values": [-3.5,-2.5,-1.5,-0.5,0.5,1.5,2.5,3.5], "tickSize": -5, "labels": false, "title": null}}, "y": {"field": "y", "type": "quantitative", "axis": {"orient": "right", "values": [0.2,0.4,0.6,0.8,1.2,1.4,1.6,1.8,2.2,2.4,2.6,2.8,3.2,3.4,3.6,3.8,4.2,4.4], "tickSize": -9, "labels": false, "title": null}}}},
   {"data": {"values": [{}]}, "mark": {"type": "text", "text": "p", "fontSize": 25}, "encoding": {"x": {"datum": -3.06, "type": "quantitative", "axis": null}, "y": {"datum": 3.8, "type": "quantitative", "axis": null}}},
   {"data": {"values": [{}]}, "mark": {"type": "text", "text": "meas", "fontSize": 18, "dy": -10}, "encoding": {"x": {"datum": -2.857, "type": "quantitative", "axis": null}, "y": {"datum": 3.8, "type": "quantitative", "axis": null}}},
   {"data": {"values": [{}]}, "mark": {"type": "text", "text": "T", "fontSize": 18, "dy": 12}, "encoding": {"x": {"datum": -2.857, "type": "quantitative", "axis": null}, "y": {"datum": 3.8, "type": "quantitative", "axis": null}}},
   {"data": {"values": [{}]}, "mark": {"type": "text", "text": "= 25 GeV", "fontSize": 25}, "encoding": {"x": {"datum": -2.168, "type": "quantitative", "axis": null}, "y": {"datum": 3.8, "type": "quantitative", "axis": null}}},
   {"data": {"values": [{}]}, "mark": {"type": "text", "text": "DØ\u00a0 3.0 fb", "fontSize": 35}, "encoding": {"x": {"datum": 0.1, "type": "quantitative", "axis": null}, "y": {"datum": 3.5, "type": "quantitative", "axis": null}}},
   {"data": {"values": [{}]}, "mark": {"type": "text", "text": "-1", "fontSize": 18, "dy": -16}, "encoding": {"x": {"datum": 2.364, "type": "quantitative", "axis": null}, "y": {"datum": 3.5, "type": "quantitative", "axis": null}}},
   {"data": {"values": [{}]}, "mark": {"type": "text", "text": "R", "fontSize": 35}, "encoding": {"x": {"datum": 0.1, "type": "quantitative", "axis": null}, "y": {"datum": 2.8, "type": "quantitative", "axis": null}}},
   {"data": {"values": [{}]}, "mark": {"type": "text", "text": "cone", "fontSize": 25, "dy": 9}, "encoding": {"x": {"datum": 0.44, "type": "quantitative", "axis": null}, "y": {"datum": 2.8, "type": "quantitative", "axis": null}}},
   {"data": {"values": [{}]}, "mark": {"type": "text", "text": "= 0.5", "fontSize": 35}, "encoding": {"x": {"datum": 1.216, "type": "quantitative", "axis": null}, "y": {"datum": 2.8, "type": "quantitative", "axis": null}}}
  ]},
 {"width": 550, "height": 269, "resolve": {"axis": {"x": "independent", "y": "independent"}},
  "layer": [
   {"data": {"name": "b100"}, "mark": {"type": "line", "clip": true},
    "encoding": {
     "x": {"field": "x", "type": "quantitative", "scale": {"domain": [-3.7, 3.7], "nice": false, "zero": false}, "axis": {"orient": "bottom", "values": [-3,-2,-1,0,1,2,3], "tickSize": -10, "labels": false, "title": null}},
     "y": {"field": "y", "type": "quantitative", "scale": {"domain": [0, 4.5], "nice": false, "zero": false}, "axis": {"orient": "left", "values": [1,2,3,4], "tickSize": -17, "labelPadding": 24.7, "labelExpr": "''+datum.value", "title": null}},
     "color": {"field": "c", "type": "nominal", "scale": {"domain": ["Total","Offset","Response","Showering"], "range": ["#000000","#0000dd","#dd0000","#007000"]}, "legend": null},
     "strokeDash": {"field": "c", "type": "nominal", "scale": {"domain": ["Total","Offset","Response","Showering"], "range": [[1,0],[2.5,4.5],[8,3,2,3],[20,7]]}, "legend": null},
     "strokeWidth": {"field": "c", "type": "nominal", "scale": {"domain": ["Total","Offset","Response","Showering"], "range": [3,2.5,2,2.3]}, "legend": null}
    }},
   {"data": {"name": "b100"}, "mark": {"type": "point", "opacity": 0}, "encoding": {"x": {"field": "x", "type": "quantitative", "axis": {"orient": "bottom", "values": [-3.5,-2.5,-1.5,-0.5,0.5,1.5,2.5,3.5], "tickSize": -5, "labels": false, "title": null}}, "y": {"field": "y", "type": "quantitative", "axis": {"orient": "left", "values": [0.2,0.4,0.6,0.8,1.2,1.4,1.6,1.8,2.2,2.4,2.6,2.8,3.2,3.4,3.6,3.8,4.2,4.4], "tickSize": -9, "labels": false, "title": null}}}},
   {"data": {"name": "b100"}, "mark": {"type": "point", "opacity": 0}, "encoding": {"x": {"field": "x", "type": "quantitative", "axis": {"orient": "top", "values": [-3,-2,-1,0,1,2,3], "tickSize": -10, "labels": false, "title": null}}, "y": {"field": "y", "type": "quantitative", "axis": {"orient": "right", "values": [1,2,3,4], "tickSize": -17, "labels": false, "title": null}}}},
   {"data": {"name": "b100"}, "mark": {"type": "point", "opacity": 0}, "encoding": {"x": {"field": "x", "type": "quantitative", "axis": {"orient": "top", "values": [-3.5,-2.5,-1.5,-0.5,0.5,1.5,2.5,3.5], "tickSize": -5, "labels": false, "title": null}}, "y": {"field": "y", "type": "quantitative", "axis": {"orient": "right", "values": [0.2,0.4,0.6,0.8,1.2,1.4,1.6,1.8,2.2,2.4,2.6,2.8,3.2,3.4,3.6,3.8,4.2,4.4], "tickSize": -9, "labels": false, "title": null}}}},
   {"data": {"values": [{}]}, "mark": {"type": "text", "text": "p", "fontSize": 25}, "encoding": {"x": {"datum": -3.06, "type": "quantitative", "axis": null}, "y": {"datum": 3.82, "type": "quantitative", "axis": null}}},
   {"data": {"values": [{}]}, "mark": {"type": "text", "text": "meas", "fontSize": 18, "dy": -10}, "encoding": {"x": {"datum": -2.857, "type": "quantitative", "axis": null}, "y": {"datum": 3.82, "type": "quantitative", "axis": null}}},
   {"data": {"values": [{}]}, "mark": {"type": "text", "text": "T", "fontSize": 18, "dy": 12}, "encoding": {"x": {"datum": -2.857, "type": "quantitative", "axis": null}, "y": {"datum": 3.82, "type": "quantitative", "axis": null}}},
   {"data": {"values": [{}]}, "mark": {"type": "text", "text": "= 100 GeV", "fontSize": 25}, "encoding": {"x": {"datum": -2.168, "type": "quantitative", "axis": null}, "y": {"datum": 3.82, "type": "quantitative", "axis": null}}},
   {"data": {"values": [{}]}, "mark": {"type": "text", "text": "(b)", "fontSize": 37, "fontWeight": "bold"}, "encoding": {"x": {"datum": 2.59, "type": "quantitative", "axis": null}, "y": {"datum": 3.63, "type": "quantitative", "axis": null}}}
  ]},
 {"width": 550, "height": 248, "resolve": {"axis": {"x": "independent", "y": "independent"}},
  "layer": [
   {"data": {"name": "b400"}, "mark": {"type": "line", "clip": true},
    "encoding": {
     "x": {"field": "x", "type": "quantitative", "scale": {"domain": [-3.7, 3.7], "nice": false, "zero": false}, "axis": {"orient": "bottom", "values": [-3,-2,-1,0,1,2,3], "tickSize": -10, "labelPadding": 17, "labelExpr": "''+datum.value", "title": "η", "titleFontSize": 33, "titleAlign": "right", "titleBaseline": "alphabetic", "titleAngle": 0, "titleX": 518, "titleY": 48}},
     "y": {"field": "y", "type": "quantitative", "scale": {"domain": [0, 4.5], "nice": false, "zero": false}, "axis": {"orient": "left", "values": [1,2,3,4], "tickSize": -17, "labelPadding": 24.7, "labelExpr": "''+datum.value", "title": null}},
     "color": {"field": "c", "type": "nominal", "scale": {"domain": ["Total","Offset","Response","Showering"], "range": ["#000000","#0000dd","#dd0000","#007000"]}, "legend": {"orient": "none", "legendX": 336, "legendY": 16, "title": null, "symbolType": "stroke", "symbolSize": 1024, "symbolStrokeWidth": 2.5, "labelFontSize": 30, "labelOffset": 17, "rowPadding": 5, "padding": 0, "labelColor": "black", "labelFont": "Liberation Sans"}},
     "strokeDash": {"field": "c", "type": "nominal", "scale": {"domain": ["Total","Offset","Response","Showering"], "range": [[1,0],[2.5,4.5],[8,3,2,3],[20,7]]}, "legend": {"orient": "none", "legendX": 336, "legendY": 16, "title": null, "symbolType": "stroke", "symbolSize": 1024, "symbolStrokeWidth": 2.5, "labelFontSize": 30, "labelOffset": 17, "rowPadding": 5, "padding": 0, "labelColor": "black", "labelFont": "Liberation Sans"}},
     "strokeWidth": {"field": "c", "type": "nominal", "scale": {"domain": ["Total","Offset","Response","Showering"], "range": [3,2.5,2,2.3]}, "legend": null}
    }},
   {"data": {"name": "b400"}, "mark": {"type": "point", "opacity": 0}, "encoding": {"x": {"field": "x", "type": "quantitative", "axis": {"orient": "bottom", "values": [-3.5,-2.5,-1.5,-0.5,0.5,1.5,2.5,3.5], "tickSize": -5, "labels": false, "title": "det", "titleFontSize": 21, "titleAlign": "left", "titleBaseline": "alphabetic", "titleAngle": 0, "titleX": 520, "titleY": 66}}, "y": {"field": "y", "type": "quantitative", "axis": {"orient": "left", "values": [0.2,0.4,0.6,0.8,1.2,1.4,1.6,1.8,2.2,2.4,2.6,2.8,3.2,3.4,3.6,3.8,4.2,4.4], "tickSize": -9, "labels": false, "title": null}}}},
   {"data": {"name": "b400"}, "mark": {"type": "point", "opacity": 0}, "encoding": {"x": {"field": "x", "type": "quantitative", "axis": {"orient": "top", "values": [-3,-2,-1,0,1,2,3], "tickSize": -10, "labels": false, "title": null}}, "y": {"field": "y", "type": "quantitative", "axis": {"orient": "right", "values": [1,2,3,4], "tickSize": -17, "labels": false, "title": null}}}},
   {"data": {"name": "b400"}, "mark": {"type": "point", "opacity": 0}, "encoding": {"x": {"field": "x", "type": "quantitative", "axis": {"orient": "top", "values": [-3.5,-2.5,-1.5,-0.5,0.5,1.5,2.5,3.5], "tickSize": -5, "labels": false, "title": null}}, "y": {"field": "y", "type": "quantitative", "axis": {"orient": "right", "values": [0.2,0.4,0.6,0.8,1.2,1.4,1.6,1.8,2.2,2.4,2.6,2.8,3.2,3.4,3.6,3.8,4.2,4.4], "tickSize": -9, "labels": false, "title": null}}}},
   {"data": {"values": [{}]}, "mark": {"type": "text", "text": "p", "fontSize": 25}, "encoding": {"x": {"datum": -3.06, "type": "quantitative", "axis": null}, "y": {"datum": 3.74, "type": "quantitative", "axis": null}}},
   {"data": {"values": [{}]}, "mark": {"type": "text", "text": "meas", "fontSize": 18, "dy": -10}, "encoding": {"x": {"datum": -2.857, "type": "quantitative", "axis": null}, "y": {"datum": 3.74, "type": "quantitative", "axis": null}}},
   {"data": {"values": [{}]}, "mark": {"type": "text", "text": "T", "fontSize": 18, "dy": 12}, "encoding": {"x": {"datum": -2.857, "type": "quantitative", "axis": null}, "y": {"datum": 3.74, "type": "quantitative", "axis": null}}},
   {"data": {"values": [{}]}, "mark": {"type": "text", "text": "= 400 GeV", "fontSize": 25}, "encoding": {"x": {"datum": -2.168, "type": "quantitative", "axis": null}, "y": {"datum": 3.74, "type": "quantitative", "axis": null}}}
  ]}
],
"config": {
 "view": {"stroke": "black", "strokeWidth": 2},
 "axis": {"grid": false, "domain": false, "tickColor": "black", "tickWidth": 1.5, "labelColor": "black", "labelFont": "Liberation Sans", "labelFontSize": 25, "titleColor": "black", "titleFont": "Liberation Sans", "titleFontWeight": "normal"},
 "text": {"font": "Liberation Sans", "fill": "black", "align": "left", "baseline": "alphabetic", "fontSize": 25}
}
}
